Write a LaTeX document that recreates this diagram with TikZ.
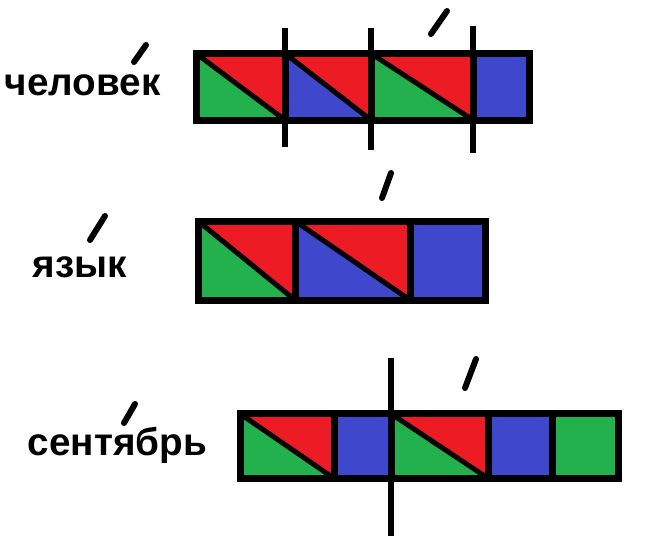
\documentclass[tikz,border=0pt]{standalone}
\usepackage{fontspec}
\setmainfont{Liberation Sans}
\usetikzlibrary{positioning,fit}
\definecolor{pred}{RGB}{237,28,36}
\definecolor{pgreen}{RGB}{34,177,76}
\definecolor{pblue}{RGB}{63,72,204}

\begin{document}
\begin{tikzpicture}
[x=0.75pt, y=-0.75pt,
 cell/.style={draw=black, line width=5.25pt, inner sep=0pt},
 split/.style 2 args={cell, path picture={
   \fill[#1] (path picture bounding box.north west) -| (path picture bounding box.south east) -- cycle;
   \fill[#2] (path picture bounding box.north west) |- (path picture bounding box.south east) -- cycle;
   \draw[line width=3.75pt] (path picture bounding box.north west) -- (path picture bounding box.south east);}},
 word/.style={font=\fontsize{29}{30}\selectfont\bfseries, anchor=base, inner sep=0pt},
 cut/.style={line width=4.5pt},
 stress/.style={line width=4.5pt, line cap=round}]
\useasboundingbox[fill=white] (0,0) rectangle (650,536);
\node[word] (hw) at (82.5,95) {человек};
\node[split={pred}{pgreen},fit={(196,53.5) (285,120)}] (h1) {};
\node[split={pred}{pblue},fit={(285,53.5) (371,120)}] (h2) {};
\node[split={pred}{pgreen},fit={(371,53.5) (473,120)}] (h3) {};
\node[cell,fill=pblue,fit={(473,53.5) (529,120)}] (h4) {};
\draw[cut] (285,28) -- (285,147);
\draw[cut] (371,28) -- (371,150);
\draw[cut] (473,26) -- (473,153);
\draw[stress] (134,62) -- (146,45);
\draw[stress] (431,34) -- (447,11);
\node[word] (yw) at (80,277) {язык};
\node[split={pred}{pgreen},fit={(198,221) (295,300)}] (y1) {};
\node[split={pred}{pblue},fit={(295,221) (410,300)}] (y2) {};
\node[cell,fill=pblue,fit={(410,221) (485,300)}] (y3) {};
\draw[stress] (90,240) -- (105,216);
\draw[stress] (382,198) -- (391,173);
\node[word] (sw) at (117.5,455) {сентябрь};
\node[split={pred}{pgreen},fit={(240,413.7) (334,478.3)}] (s1) {};
\node[cell,fill=pblue,fit={(334,413.7) (391,478.3)}] (s2) {};
\node[split={pred}{pgreen},fit={(391,413.7) (488,478.3)}] (s3) {};
\node[cell,fill=pblue,fit={(488,413.7) (552,478.3)}] (s4) {};
\node[cell,fill=pgreen,fit={(552,413.7) (618,478.3)}] (s5) {};
\draw[cut] (391,358) -- (391,536);
\draw[stress] (124,423) -- (135,404);
\draw[stress] (465,388) -- (476,359);
\end{tikzpicture}
\end{document}
